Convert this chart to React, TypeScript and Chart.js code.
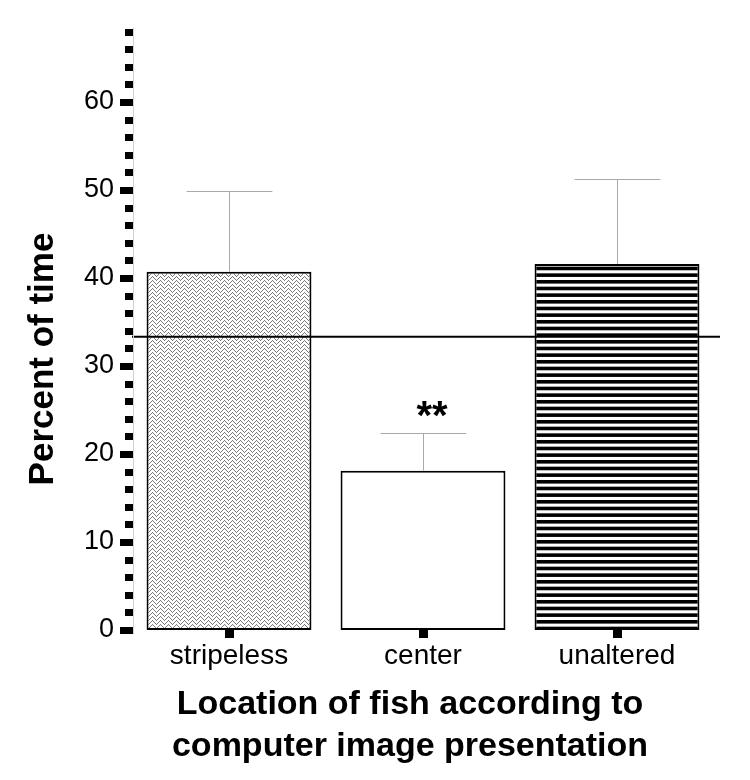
import React, { useEffect, useRef } from 'react';
import { Chart, registerables } from 'chart.js';
Chart.register(...registerables);

const categories = ['stripeless', 'center', 'unaltered'];
const meanValues = [40.7, 18.1, 41.6];
const errorTops = [49.9, 22.4, 51.3];
const significance = ['', '**', ''];
const chanceLevel = 33.33;
const yMin = 0;
const yMax = 68;
const yMajorStep = 10;
const yMinorStep = 2;
const yTitle = 'Percent of time';
const xTitleLines = ['Location of fish according to', 'computer image presentation'];

const FONT = '"Liberation Sans", Arial, Helvetica, sans-serif';

function makeHerringbone(ctx: CanvasRenderingContext2D) {
  const c = document.createElement('canvas');
  c.width = 8;
  c.height = 8;
  const g = c.getContext('2d')!;
  g.fillStyle = '#ffffff';
  g.fillRect(0, 0, 8, 8);
  for (let x = 0; x < 8; x++) {
    for (let y = 0; y < 8; y++) {
      const z = x < 4 ? x : 8 - x;
      const m = (((y - z) % 4) + 4) % 4;
      if (m === 0) {
        g.fillStyle = '#7a7a7a';
        g.fillRect(x, y, 1, 1);
      } else if (m === 2 && (x + y) % 2 === 1) {
        g.fillStyle = '#cfcfcf';
        g.fillRect(x, y, 1, 1);
      }
    }
  }
  return ctx.createPattern(c, 'repeat');
}

function makeStripes(ctx: CanvasRenderingContext2D) {
  const c = document.createElement('canvas');
  c.width = 4;
  c.height = 20;
  const g = c.getContext('2d')!;
  g.fillStyle = '#ffffff';
  g.fillRect(0, 0, 4, 20);
  g.fillStyle = '#000000';
  for (let i = 0; i < 3; i++) {
    g.fillRect(0, i * (20 / 3), 4, 3.6);
  }
  return ctx.createPattern(c, 'repeat');
}

const decorPlugin = {
  id: 'decor',
  afterDatasetsDraw(chart: any) {
    const ctx = chart.ctx;
    const y = chart.scales.y;
    const area = chart.chartArea;
    const meta = chart.getDatasetMeta(0);
    ctx.save();
    // error bars
    ctx.strokeStyle = '#a9a9a9';
    ctx.lineWidth = 1;
    meta.data.forEach((bar: any, i: number) => {
      const cx = Math.round(bar.x) + 0.5;
      const top = Math.round(y.getPixelForValue(errorTops[i])) + 0.5;
      const base = y.getPixelForValue(meanValues[i]);
      const half = bar.width * 0.26;
      ctx.beginPath();
      ctx.moveTo(cx, base);
      ctx.lineTo(cx, top);
      ctx.moveTo(cx - half, top);
      ctx.lineTo(cx + half, top);
      ctx.stroke();
    });
    // chance line
    const ly = y.getPixelForValue(chanceLevel);
    ctx.strokeStyle = '#000';
    ctx.lineWidth = 2;
    ctx.beginPath();
    ctx.moveTo(area.left, ly);
    ctx.lineTo(area.right + 6, ly);
    ctx.stroke();
    // significance marks
    ctx.fillStyle = '#000';
    ctx.font = `bold 40px ${FONT}`;
    ctx.textAlign = 'center';
    ctx.textBaseline = 'alphabetic';
    meta.data.forEach((bar: any, i: number) => {
      if (!significance[i]) return;
      const top = y.getPixelForValue(errorTops[i]);
      ctx.fillText(significance[i], bar.x + 9, top - 4);
    });
    ctx.restore();
  },
  afterDraw(chart: any) {
    const ctx = chart.ctx;
    const y = chart.scales.y;
    const area = chart.chartArea;
    ctx.save();
    // y axis made of squares
    const right = area.left + 1;
    ctx.fillStyle = '#d0d0d0';
    ctx.fillRect(right, y.getPixelForValue(yMax) - 4, 1, y.getPixelForValue(yMin) - y.getPixelForValue(yMax) + 8);
    ctx.fillStyle = '#000';
    for (let v = yMin; v <= yMax + 1e-9; v += yMinorStep) {
      const py = Math.round(y.getPixelForValue(v));
      const major = Math.abs(v % yMajorStep) < 1e-9;
      const w = major ? 13 : 8;
      ctx.fillRect(right - w, py - 3, w, 7);
    }
    // y title
    ctx.font = `bold 35px ${FONT}`;
    ctx.textAlign = 'center';
    ctx.textBaseline = 'middle';
    ctx.translate(43, 359);
    ctx.rotate(-Math.PI / 2);
    ctx.fillText(yTitle, 0, 0);
    ctx.restore();
    // x title
    ctx.save();
    ctx.fillStyle = '#000';
    ctx.font = `bold 34px ${FONT}`;
    ctx.textAlign = 'center';
    ctx.textBaseline = 'alphabetic';
    xTitleLines.forEach((line, i) => {
      ctx.fillText(line, 410, 714 + i * 42);
    });
    ctx.restore();
  },
};

export default function App() {
  const ref = useRef<HTMLCanvasElement>(null);
  useEffect(() => {
    const canvas = ref.current!;
    const ctx = canvas.getContext('2d')!;
    const fills = [makeHerringbone(ctx), '#ffffff', makeStripes(ctx)];
    const chart = new Chart(canvas, {
      type: 'bar',
      data: {
        labels: categories,
        datasets: [
          {
            data: meanValues,
            backgroundColor: fills as any,
            borderColor: '#000',
            borderWidth: 2,
            borderSkipped: false,
            barPercentage: 0.85,
            categoryPercentage: 1,
          },
        ],
      },
      options: {
        responsive: false,
        animation: false,
        devicePixelRatio: 1,
        layout: { padding: { top: 31.6, right: 36, bottom: 0, left: 0 } },
        plugins: { legend: { display: false }, tooltip: { enabled: false } },
        scales: {
          x: {
            grid: {
              display: true,
              drawOnChartArea: false,
              drawTicks: true,
              tickLength: 8,
              tickWidth: 9,
              tickColor: '#000',
              offset: false,
            },
            border: { display: false },
            ticks: { color: '#000', font: { size: 28, family: FONT }, padding: 1 },
            afterFit: (s: any) => {
              s.height = 150;
              s.paddingLeft = 0;
              s.paddingRight = 0;
            },
          },
          y: {
            min: yMin,
            max: yMax,
            grid: { display: false },
            border: { display: false },
            ticks: {
              stepSize: yMajorStep,
              includeBounds: false,
              color: '#000',
              font: { size: 27, family: FONT },
              padding: 10,
            },
            afterFit: (s: any) => {
              s.width = 132;
              s.paddingTop = 0;
              s.paddingBottom = 0;
            },
          },
        },
      },
      plugins: [decorPlugin],
    });
    return () => chart.destroy();
  }, []);
  return (
    <div style={{ position: 'absolute', left: 0, top: 0, width: 750, height: 780, background: '#fff' }}>
      <canvas ref={ref} width={750} height={780} style={{ display: 'block' }} />
    </div>
  );
}
